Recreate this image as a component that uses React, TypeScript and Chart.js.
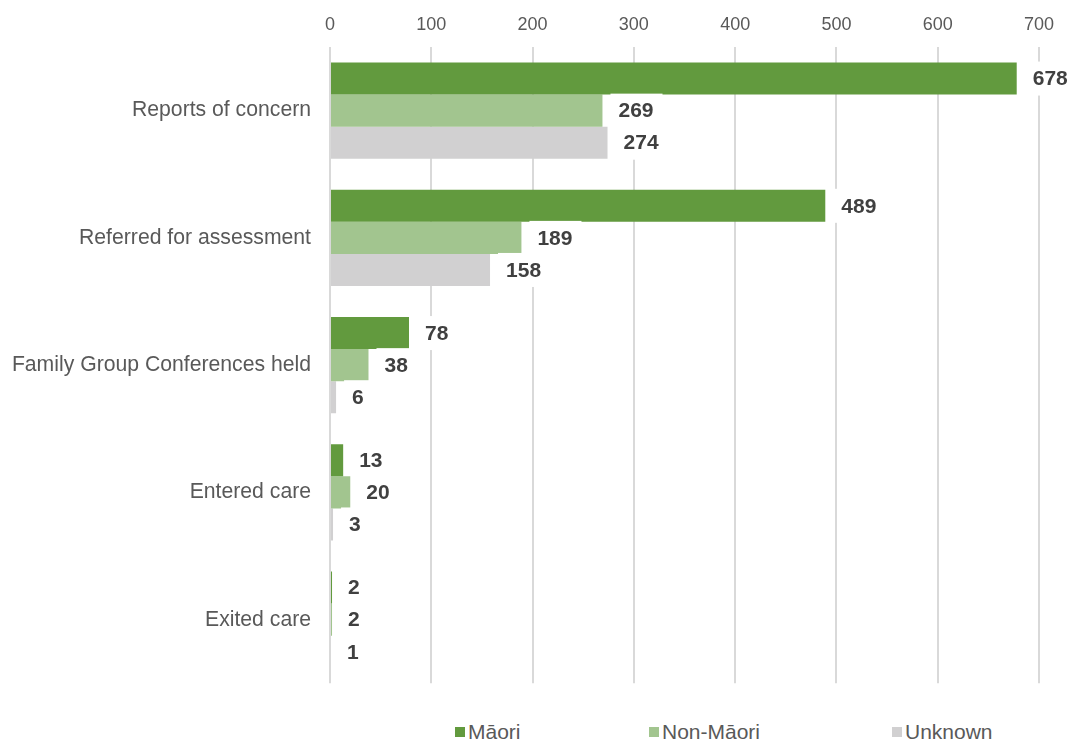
import React, { useEffect, useRef } from "react";
import { Chart, registerables } from "chart.js";

Chart.register(...registerables);

const categories = [
  "Reports of concern",
  "Referred for assessment",
  "Family Group Conferences held",
  "Entered care",
  "Exited care",
];
const maoriValues = [678, 489, 78, 13, 2];
const nonMaoriValues = [269, 189, 38, 20, 2];
const unknownValues = [274, 158, 6, 3, 1];
const seriesNames = ["Māori", "Non-Māori", "Unknown"];
const seriesColors = ["#629a3e", "#a2c58f", "#d1d0d1"];
const xTickMin = 0;
const xTickMax = 700;
const xTickStep = 100;

const FONT = "'Liberation Sans', Arial, sans-serif";

const labelPlugin = {
  id: "barLabels",
  afterDatasetsDraw(chart: any) {
    const ctx = chart.ctx;
    ctx.save();
    ctx.font = `bold 21px ${FONT}`;
    ctx.textBaseline = "middle";
    ctx.textAlign = "left";
    chart.data.datasets.forEach((ds: any, di: number) => {
      const meta = chart.getDatasetMeta(di);
      meta.data.forEach((bar: any, i: number) => {
        const text = String(ds.data[i]);
        const x = bar.x + 16;
        const y = bar.y;
        const w = ctx.measureText(text).width;
        ctx.fillStyle = "#ffffff";
        ctx.fillRect(x - 8, y - 17, w + 17, 34);
      });
    });
    chart.data.datasets.forEach((ds: any, di: number) => {
      const meta = chart.getDatasetMeta(di);
      meta.data.forEach((bar: any, i: number) => {
        const text = String(ds.data[i]);
        ctx.fillStyle = "#404040";
        ctx.fillText(text, bar.x + 16, bar.y + 1);
      });
    });
    ctx.restore();
  },
};

export default function App() {
  const ref = useRef<HTMLCanvasElement | null>(null);

  useEffect(() => {
    if (!ref.current) return;
    const chart = new Chart(ref.current, {
      type: "bar",
      data: {
        labels: categories,
        datasets: [
          { label: seriesNames[0], data: maoriValues, backgroundColor: seriesColors[0] },
          { label: seriesNames[1], data: nonMaoriValues, backgroundColor: seriesColors[1] },
          { label: seriesNames[2], data: unknownValues, backgroundColor: seriesColors[2] },
        ],
      },
      options: {
        indexAxis: "y",
        animation: false,
        responsive: false,
        maintainAspectRatio: false,
        datasets: {
          bar: { categoryPercentage: 0.756, barPercentage: 1, borderWidth: 0 },
        },
        layout: { padding: { top: 0, right: 31, bottom: 0, left: 0 } },
        plugins: {
          legend: { display: false },
          tooltip: { enabled: false },
        },
        scales: {
          x: {
            position: "top",
            min: xTickMin,
            max: xTickMax,
            ticks: {
              stepSize: xTickStep,
              color: "#595959",
              font: { family: FONT, size: 18 },
              padding: 11,
              maxRotation: 0,
            },
            grid: { color: "#d9d9d9", lineWidth: 2, drawTicks: false },
            border: { display: false },
            afterFit(scale: any) {
              scale.height = 47;
            },
          },
          y: {
            ticks: {
              color: "#595959",
              font: { family: FONT, size: 21.2 },
              padding: 19,
            },
            grid: { display: false, drawTicks: false },
            border: { display: false },
            afterFit(scale: any) {
              scale.width = 330;
            },
          },
        },
      },
      plugins: [labelPlugin],
    } as any);
    return () => chart.destroy();
  }, []);

  const legendItems = [
    { name: seriesNames[0], color: seriesColors[0], left: 455 },
    { name: seriesNames[1], color: seriesColors[1], left: 649 },
    { name: seriesNames[2], color: seriesColors[2], left: 892 },
  ];

  return (
    <div style={{ position: "absolute", left: 0, top: 0, width: 1070, height: 742, background: "#fff", overflow: "hidden" }}>
      <div style={{ position: "absolute", left: 0, top: 0, width: 1070, height: 715 }}>
        <canvas ref={ref} width={1070} height={715} style={{ width: 1070, height: 715, display: "block" }} />
      </div>
      {legendItems.map((it) => (
        <div
          key={it.name}
          style={{
            position: "absolute",
            left: it.left,
            top: 719,
            height: 26,
            display: "flex",
            alignItems: "center",
            fontFamily: FONT,
            fontSize: 21,
            color: "#595959",
            whiteSpace: "nowrap",
          }}
        >
          <span style={{ display: "inline-block", width: 10, height: 10, background: it.color, marginRight: 3 }} />
          <span>{it.name}</span>
        </div>
      ))}
    </div>
  );
}
